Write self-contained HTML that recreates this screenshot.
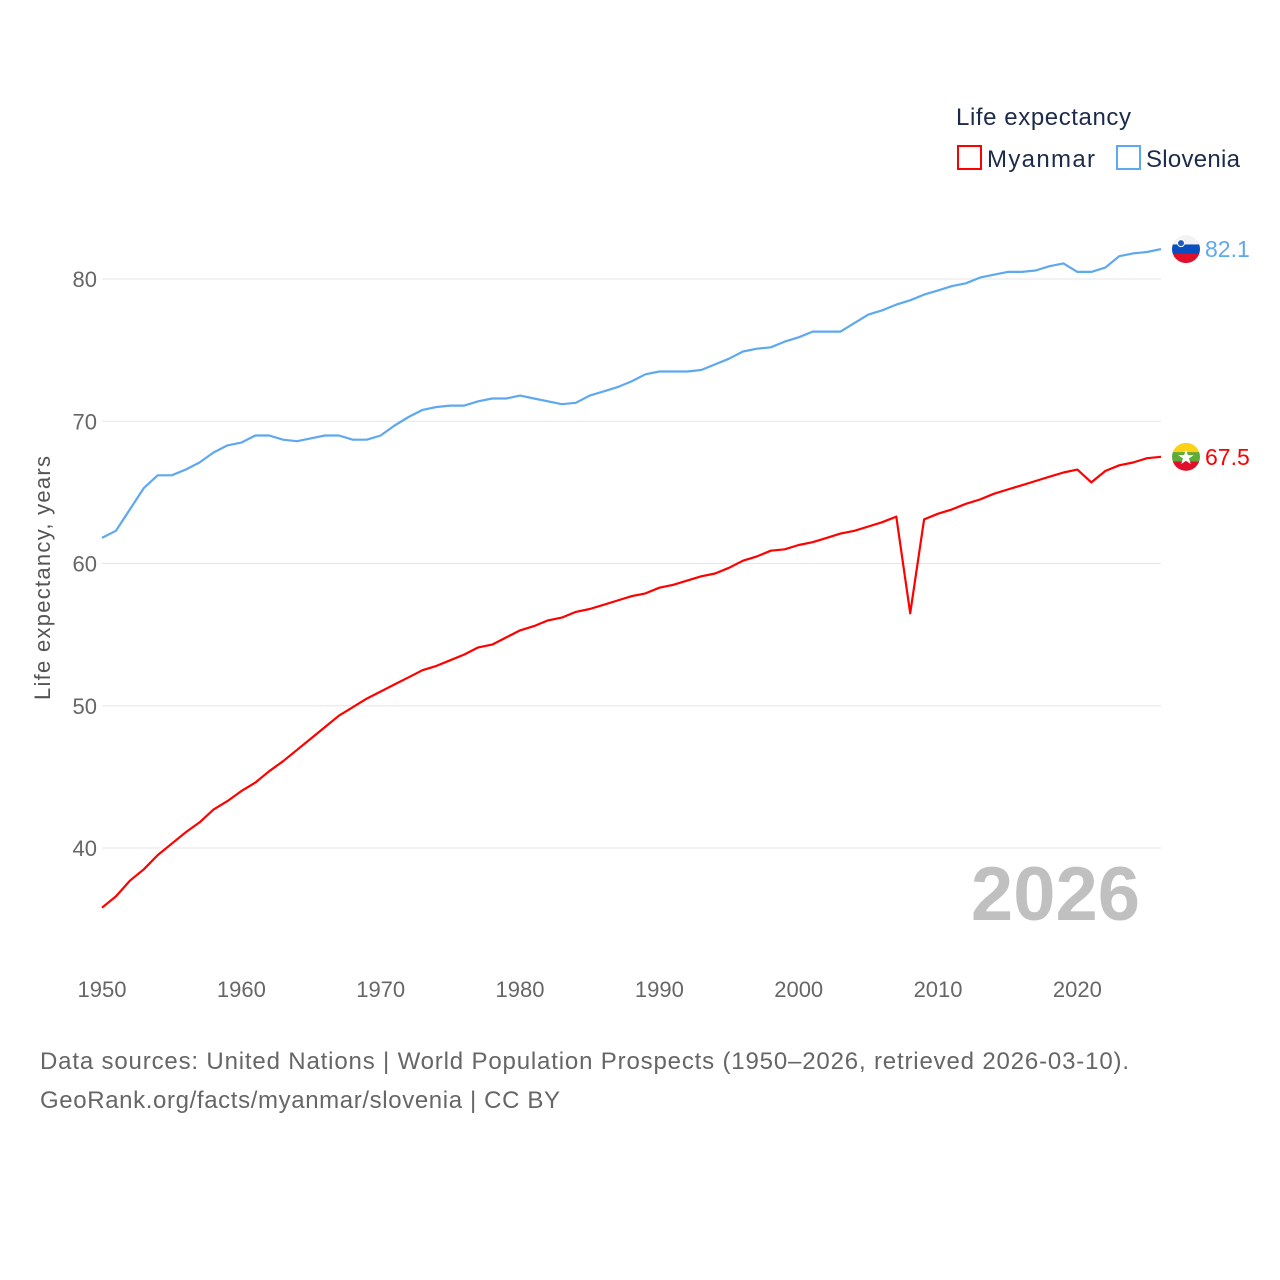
<!DOCTYPE html>
<html><head><meta charset="utf-8"><style>
body{margin:0;background:#fff;}
svg{display:block;font-family:"Liberation Sans",sans-serif;}
</style></head><body>
<svg id="chart" width="1280" height="1280" viewBox="0 0 1280 1280">
<text x="956" y="125" font-size="24" fill="#1c2b4a" textLength="175">Life expectancy</text>
<g>
<rect x="958" y="146" width="23" height="23" fill="none" stroke="#ff0000" stroke-width="2"/>
<text x="987" y="167" font-size="24" fill="#1c2b4a" textLength="108">Myanmar</text></g>
<g>
<rect x="1117" y="146" width="23" height="23" fill="none" stroke="#5ea8ef" stroke-width="2"/>
<text x="1146" y="167" font-size="24" fill="#1c2b4a" textLength="94">Slovenia</text></g>
<text transform="translate(50,578) rotate(-90)" text-anchor="middle" font-size="22" fill="#555" textLength="244">Life expectancy, years</text>
<g id="grid"></g><g id="xt"></g><g id="lines"></g>
<text x="1140" y="920" text-anchor="end" font-size="76" font-weight="bold" fill="#c0c0c0">2026</text>
<text x="40" y="1069" font-size="24" fill="#666" textLength="1089">Data sources: United Nations | World Population Prospects (1950–2026, retrieved 2026-03-10).</text>
<text x="40" y="1108" font-size="24" fill="#666" textLength="520">GeoRank.org/facts/myanmar/slovenia | CC BY</text>
</svg>
<script>
const yTicks=[40,50,60,70,80];
const xTicks=[1950,1960,1970,1980,1990,2000,2010,2020];
const startYear=1950;
const slovenia=[61.8,62.3,63.8,65.3,66.2,66.2,66.6,67.1,67.8,68.3,68.5,69.0,69.0,68.7,68.6,68.8,69.0,69.0,68.7,68.7,69.0,69.7,70.3,70.8,71.0,71.1,71.1,71.4,71.6,71.6,71.8,71.6,71.4,71.2,71.3,71.8,72.1,72.4,72.8,73.3,73.5,73.5,73.5,73.6,74.0,74.4,74.9,75.1,75.2,75.6,75.9,76.3,76.3,76.3,76.9,77.5,77.8,78.2,78.5,78.9,79.2,79.5,79.7,80.1,80.3,80.5,80.5,80.6,80.9,81.1,80.5,80.5,80.8,81.6,81.8,81.9,82.1];
const myanmar=[35.8,36.6,37.7,38.5,39.5,40.3,41.1,41.8,42.7,43.3,44.0,44.6,45.4,46.1,46.9,47.7,48.5,49.3,49.9,50.5,51.0,51.5,52.0,52.5,52.8,53.2,53.6,54.1,54.3,54.8,55.3,55.6,56.0,56.2,56.6,56.8,57.1,57.4,57.7,57.9,58.3,58.5,58.8,59.1,59.3,59.7,60.2,60.5,60.9,61.0,61.3,61.5,61.8,62.1,62.3,62.6,62.9,63.3,56.5,63.1,63.5,63.8,64.2,64.5,64.9,65.2,65.5,65.8,66.1,66.4,66.6,65.7,66.5,66.9,67.1,67.4,67.5];
const X=yr=>102+(yr-1950)*(1161-102)/76;
const Y=v=>279-(v-80)*(848-279)/40;
const NS='http://www.w3.org/2000/svg';
function mk(t,a,p){const e=document.createElementNS(NS,t);for(const k in a)e.setAttribute(k,a[k]);p.appendChild(e);return e;}
const grid=document.getElementById('grid');
yTicks.forEach(v=>{
 const l=mk('line',{x1:102,x2:1161,y1:Y(v),y2:Y(v),stroke:'#e6e6e6','stroke-width':1},grid);
 
 
 const t=mk('text',{x:97,y:Y(v)+8,'text-anchor':'end','font-size':22,fill:'#666'},grid);
 t.textContent=v;
 
 
});
const xt=document.getElementById('xt');
xTicks.forEach(v=>{
 const t=mk('text',{x:X(v),y:997,'text-anchor':'middle','font-size':22,fill:'#666'},xt);
 t.textContent=v;
 
 
});
const lines=document.getElementById('lines');
function series(arr,color,name,label,flag){
 const pts=arr.map((v,i)=>X(startYear+i).toFixed(1)+','+Y(v).toFixed(1)).join(' ');
 const p=mk('polyline',{points:pts,fill:'none',stroke:color,'stroke-width':2.2,'stroke-linejoin':'round'},lines);
 
 
 const last=arr[arr.length-1],cy=Y(last);
 const g=mk('g',{},lines);
 
 
 const cid='c'+name;
 const cp=mk('clipPath',{id:cid},g);mk('circle',{cx:1186,cy:cy,r:14},cp);
 const gc=mk('g',{'clip-path':'url(#'+cid+')'},g);
 flag.forEach((c,i)=>mk('rect',{x:1172,y:cy-14+i*28/3,width:28,height:28/3+0.5,fill:c},gc));
 if(name==='myanmar'){mk('text',{x:1186,y:cy+7,'text-anchor':'middle','font-size':20,fill:'#fff'},g).textContent='★';}
 else{mk('circle',{cx:1181,cy:cy-6,r:3.5,fill:'#1c5bc4',stroke:'#fff','stroke-width':1},g);}
 const t=mk('text',{x:1205,y:cy+8,'font-size':23,fill:color},lines);
 t.textContent=label;
 
 
}
series(slovenia,'#5ea8ef','slovenia','82.1',['#f2f2f2','#0a4fbf','#e0102a']);
series(myanmar,'#ff0000','myanmar','67.5',['#fcd116','#5eaa3a','#e0102a']);
</script>
</body></html>
